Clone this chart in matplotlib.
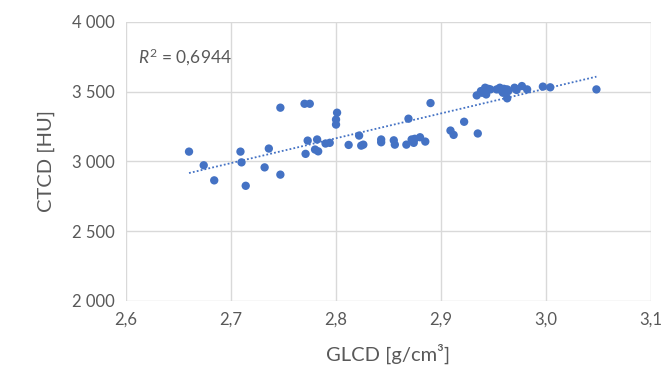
import numpy as np
import matplotlib.pyplot as plt
from matplotlib.ticker import FuncFormatter, MultipleLocator

# GLCD [g/cm3] vs CTCD [HU]
glcd = [2.660, 2.674, 2.684, 2.709, 2.710, 2.714, 2.732, 2.736, 2.747, 2.747,
        2.770, 2.775, 2.771, 2.773, 2.782, 2.780, 2.783, 2.790, 2.794, 2.801,
        2.800, 2.800, 2.812, 2.822, 2.824, 2.826,
        2.843, 2.843, 2.855, 2.856, 2.867, 2.869, 2.872, 2.874, 2.875, 2.880,
        2.885, 2.890, 2.909, 2.912, 2.922, 2.935, 2.934,
        2.938, 2.942, 2.943, 2.939, 2.947, 2.953, 2.956, 2.958, 2.959, 2.963,
        2.963, 2.964, 2.970, 2.972, 2.977, 2.982, 2.997, 3.004, 3.048,
        2.960, 2.961, 2.945, 2.971]
ctcd = [3070, 2972, 2864, 3070, 2993, 2825, 2957, 3092, 2905, 3385,
        3413, 3413, 3054, 3149, 3157, 3085, 3072, 3128, 3133, 3349,
        3300, 3264, 3118, 3185, 3113, 3120,
        3157, 3137, 3151, 3120, 3120, 3306, 3157, 3133, 3162, 3173,
        3142, 3418, 3221, 3190, 3284, 3200, 3473,
        3504, 3528, 3480, 3492, 3516, 3516, 3528, 3504, 3492, 3516,
        3452, 3504, 3528, 3512, 3540, 3516, 3536, 3531, 3516,
        3520, 3510, 3520, 3520]
r2_label = "0,6944"

blue = "#4472C4"
grey_txt = "#595959"
grid_c = "#D9D9D9"

plt.rcParams['font.family'] = ['Lato', 'DejaVu Sans']
plt.rcParams['mathtext.fontset'] = 'custom'
plt.rcParams['mathtext.rm'] = 'Lato'
plt.rcParams['mathtext.it'] = 'Lato:italic'

fig = plt.figure(figsize=(6.65, 3.71), dpi=100)
ax = fig.add_axes([0.1895, 0.189, 0.7895, 0.752])

ax.scatter(glcd, ctcd, s=36, color=blue, edgecolors='none', zorder=3)

# linear trendline over the data range
x = np.array(glcd)
k, b = np.polyfit(x, np.array(ctcd), 1)
xs = np.array([x.min(), x.max()])
ax.plot(xs, k * xs + b, color=blue, linestyle=(0, (1, 1.2)), linewidth=1.3, zorder=2)

ax.text(2.611, 3745, "$R^2$ = " + r2_label, fontsize=12.5, color=grey_txt, va='center')

ax.set_xlim(2.6, 3.1)
ax.set_ylim(2000, 4000)
ax.xaxis.set_major_locator(MultipleLocator(0.1))
ax.yaxis.set_major_locator(MultipleLocator(500))
ax.xaxis.set_major_formatter(FuncFormatter(lambda v, p: f"{v:.1f}".replace('.', ',')))
ax.yaxis.set_major_formatter(FuncFormatter(lambda v, p: f"{int(round(v)):,}".replace(',', ' ')))

ax.grid(True, color=grid_c, linewidth=1)
ax.set_axisbelow(True)
for s in ax.spines.values():
    s.set_visible(False)
ax.tick_params(length=0, labelsize=12, labelcolor=grey_txt, pad=8)

ax.set_xlabel("GLCD [g/cm³]", fontsize=14.5, color=grey_txt, labelpad=11)
ax.set_ylabel("CTCD [HU]", fontsize=14.5, color=grey_txt, labelpad=12)

fig.savefig("out.png", dpi=100)
